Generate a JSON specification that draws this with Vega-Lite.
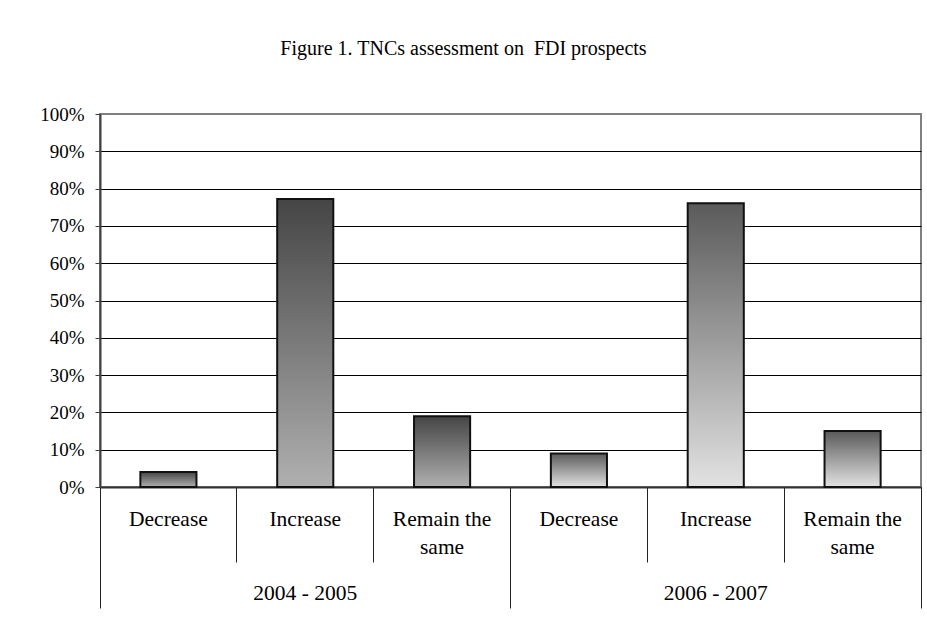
{
  "$schema": "https://vega.github.io/schema/vega-lite/v6.json",
  "width": 821,
  "height": 373,
  "autosize": {"type": "none"},
  "padding": {"left": 100, "top": 114, "right": 6, "bottom": 139},
  "background": "white",
  "title": {
    "text": "Figure 1. TNCs assessment on \u00a0FDI prospects",
    "font": "Liberation Serif",
    "fontSize": 20,
    "fontWeight": "normal",
    "color": "black",
    "anchor": "middle",
    "frame": "group",
    "dx": -47,
    "offset": 46
  },
  "data": {
    "values": [
      {"period": "2004 - 2005", "answer": "Decrease", "share": 0.04},
      {"period": "2004 - 2005", "answer": "Increase", "share": 0.772},
      {"period": "2004 - 2005", "answer": "Remain the same", "share": 0.19},
      {"period": "2006 - 2007", "answer": "Decrease", "share": 0.09},
      {"period": "2006 - 2007", "answer": "Increase", "share": 0.761},
      {"period": "2006 - 2007", "answer": "Remain the same", "share": 0.15}
    ]
  },
  "transform": [{"calculate": "datum.period + '|' + datum.answer", "as": "key"}],
  "layer": [
    {
      "mark": {"type": "bar", "stroke": "#111111", "strokeWidth": 2, "width": {"band": 0.41}},
      "encoding": {
        "x": {
          "field": "key",
          "type": "nominal",
          "sort": null,
          "scale": {"type": "band", "paddingInner": 0, "paddingOuter": 0},
          "axis": {
            "orient": "bottom",
            "title": null,
            "labelAngle": 0,
            "labelExpr": "split(datum.value, '|')[1] == 'Remain the same' ? ['Remain the', 'same'] : split(datum.value, '|')[1]",
            "labelFont": "Liberation Serif",
            "labelFontSize": 21.5,
            "labelColor": "black",
            "labelBaseline": "top",
            "labelLineHeight": 28,
            "labelPadding": -54,
            "bandPosition": 1,
            "tickExtra": true,
            "tickSize": 75,
            "tickColor": "#222222",
            "tickWidth": 1,
            "domainColor": "#333333",
            "domainWidth": 2,
            "grid": false
          }
        },
        "y": {
          "field": "share",
          "type": "quantitative",
          "scale": {"domain": [0, 1], "nice": false},
          "axis": {
            "title": null,
            "format": ".0%",
            "values": [0, 0.1, 0.2, 0.3, 0.4, 0.5, 0.6, 0.7, 0.8, 0.9, 1],
            "labelFont": "Liberation Serif",
            "labelFontSize": 19,
            "labelColor": "black",
            "labelPadding": 11,
            "tickSize": 5,
            "tickColor": "#404040",
            "domainColor": "#404040",
            "domainWidth": 2,
            "grid": true,
            "gridColor": {"condition": {"test": "datum.value == 1", "value": "#808080"}, "value": "black"},
            "gridWidth": 1,
            "gridOpacity": 1
          }
        },
        "fill": {
          "condition": {
            "test": "datum.period == '2004 - 2005'",
            "value": {
              "gradient": "linear", "x1": 0, "y1": 0, "x2": 0, "y2": 1,
              "stops": [{"offset": 0, "color": "#454545"}, {"offset": 1, "color": "#b0b0b0"}]
            }
          },
          "value": {
            "gradient": "linear", "x1": 0, "y1": 0, "x2": 0, "y2": 1,
            "stops": [{"offset": 0, "color": "#5a5a5a"}, {"offset": 1, "color": "#e2e2e2"}]
          }
        }
      }
    },
    {
      "mark": {"type": "point", "opacity": 0},
      "encoding": {
        "x": {
          "field": "period",
          "type": "nominal",
          "scale": {"type": "band", "paddingInner": 0, "paddingOuter": 0},
          "axis": {
            "orient": "bottom",
            "title": null,
            "labelAngle": 0,
            "labelFont": "Liberation Serif",
            "labelFontSize": 21.5,
            "labelColor": "black",
            "labelBaseline": "top",
            "labelPadding": -26,
            "bandPosition": 1,
            "tickExtra": true,
            "tickSize": 121,
            "tickColor": "#222222",
            "tickWidth": 1,
            "domain": false,
            "grid": false
          }
        }
      }
    }
  ],
  "resolve": {"scale": {"x": "independent"}, "axis": {"x": "independent"}},
  "config": {
    "view": {"stroke": "#808080", "strokeWidth": 2}
  }
}
